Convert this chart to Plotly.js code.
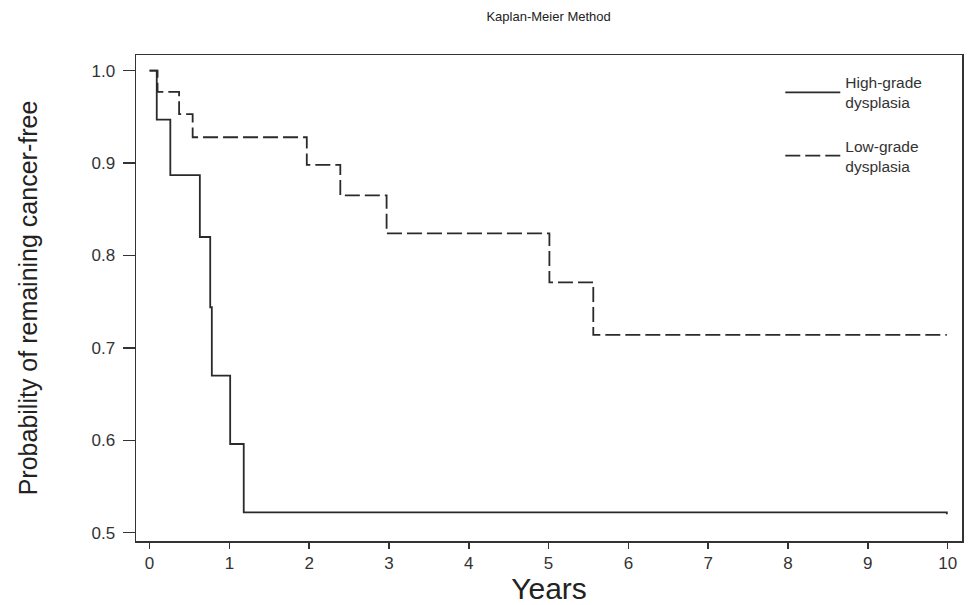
<!DOCTYPE html>
<html>
<head>
<meta charset="utf-8">
<script src="https://cdn.plot.ly/plotly-3.0.1.min.js"></script>
<style>html,body{margin:0;padding:0;background:#fff;}#chart{width:971px;height:605px;}</style>
</head>
<body>
<div id="chart"></div>
<script>
// Kaplan-Meier step data (time in years, survival probability after event)
const highGradeYears = [0, 0.09, 0.26, 0.63, 0.76, 0.78, 1.01, 1.18, 9.99];
const highGradeSurv  = [1.0, 0.947, 0.887, 0.820, 0.744, 0.670, 0.596, 0.522, 0.520];
const lowGradeYears  = [0, 0.10, 0.37, 0.54, 1.97, 2.39, 2.97, 5.01, 5.56, 9.99];
const lowGradeSurv   = [1.0, 0.977, 0.953, 0.928, 0.898, 0.865, 0.824, 0.771, 0.714, 0.714];
const seriesNames = ["High-grade<br>dysplasia", "Low-grade<br>dysplasia"];
const xTicks = [0,1,2,3,4,5,6,7,8,9,10];
const yTicks = [0.5,0.6,0.7,0.8,0.9,1.0];

const FONT = "Liberation Sans, Arial, Helvetica, sans-serif";
const traces = [
  {x: highGradeYears, y: highGradeSurv, name: seriesNames[0], mode: "lines", legendgroup: "a",
   line: {shape: "hv", color: "#2a2a2a", width: 1.8}},
  {x: lowGradeYears, y: lowGradeSurv, name: seriesNames[1], mode: "lines", legendgroup: "b",
   line: {shape: "hv", color: "#2a2a2a", width: 1.8, dash: "15px,5px"}}
];
const layout = {
  width: 971, height: 605,
  margin: {l: 136, r: 9, t: 55, b: 64},
  paper_bgcolor: "#fff", plot_bgcolor: "#fff",
  font: {family: FONT, color: "#222"},
  title: {text: "Kaplan-Meier Method", font: {size: 13, color: "#222"}, x: 0.5650, xanchor: "center", y: 0.972, yanchor: "middle"},
  xaxis: {range: [-0.17, 10.18], tickvals: xTicks, ticktext: xTicks.map(String), showgrid: false, zeroline: false,
          showline: true, mirror: true, linecolor: "#333", linewidth: 1.5,
          ticks: "outside", ticklen: 6, tickcolor: "#333", tickwidth: 1.5,
          tickfont: {size: 17, color: "#333"},
          title: {text: "Years", font: {size: 30, color: "#222"}, standoff: 13}},
  yaxis: {range: [0.491, 1.017], tickvals: yTicks, ticktext: yTicks.map(v => v.toFixed(1)), showgrid: false, zeroline: false,
          showline: true, mirror: true, linecolor: "#333", linewidth: 1.5,
          ticks: "outside", ticklen: 12, tickcolor: "#333", tickwidth: 1.5, ticklabelstandoff: 4,
          tickfont: {size: 17, color: "#333"},
          title: {text: "Probability of remaining cancer-free", font: {size: 25, color: "#222"}, standoff: 46}},
  showlegend: true,
  legend: {x: 0.78, xanchor: "left", y: 0.978, yanchor: "top", bgcolor: "rgba(0,0,0,0)",
           font: {size: 15.5, color: "#333"}, tracegroupgap: 20, itemwidth: 55}
};
Plotly.newPlot("chart", traces, layout, {displayModeBar: false, staticPlot: true});
</script>
</body>
</html>
